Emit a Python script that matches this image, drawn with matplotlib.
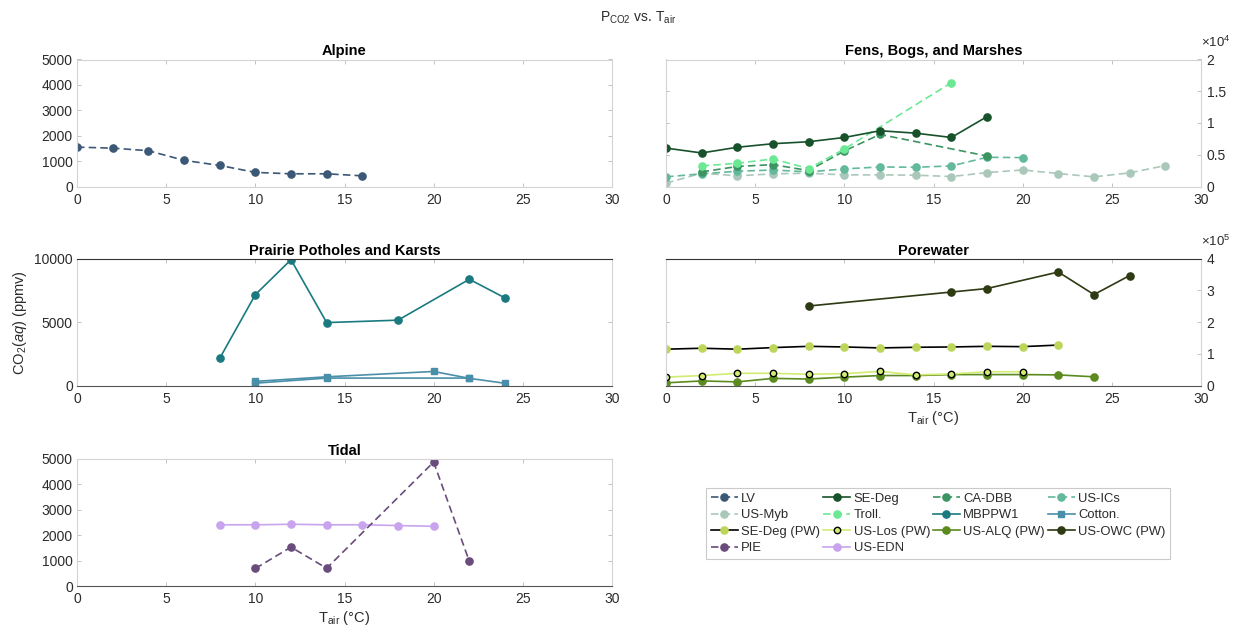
import matplotlib
matplotlib.use("Agg")
import matplotlib.pyplot as plt
from matplotlib.ticker import FuncFormatter

plt.rcParams["font.family"] = ["Liberation Sans", "DejaVu Sans"]
plt.rcParams["mathtext.fontset"] = "custom"
plt.rcParams["mathtext.rm"] = "Liberation Sans"
plt.rcParams["mathtext.it"] = "Liberation Sans:italic"
plt.rcParams["mathtext.bf"] = "Liberation Sans:bold"

# ---- Alpine ----
lv_t = [0, 2, 4, 6, 8, 10, 12, 14, 16]
lv_co2 = [1550, 1510, 1410, 1030, 830, 555, 500, 500, 420]

# ---- Fens, bogs and marshes ----
sedeg_t = [0, 2, 4, 6, 8, 10, 12, 14, 16, 18]
sedeg_co2 = [6050, 5280, 6180, 6740, 7050, 7720, 8780, 8400, 7720, 11000]
cadbb_t = [2, 4, 6, 8, 10, 12, 18]
cadbb_co2 = [2300, 3150, 3450, 2500, 5600, 8200, 4800]
usics_t = [0, 2, 4, 6, 8, 10, 12, 14, 16, 18, 20]
usics_co2 = [1520, 2000, 2400, 2600, 2300, 2770, 3080, 3030, 3240, 4600, 4550]
usmyb_t = [0, 2, 4, 6, 8, 10, 12, 14, 16, 18, 20, 22, 24, 26, 28]
usmyb_co2 = [530, 2100, 1680, 1990, 2100, 1830, 1830, 1780, 1570, 2190, 2610,
             2040, 1520, 2150, 3290]
troll_t = [2, 4, 6, 8, 10, 16]
troll_co2 = [3240, 3660, 4340, 2820, 5900, 16350]

# ---- Prairie potholes and karsts ----
mbppw1_t = [8, 10, 12, 14, 18, 22, 24]
mbppw1_co2 = [2150, 7170, 9920, 4970, 5160, 8380, 6910]
cotton_t = [10, 14, 20, 22, 24]
cotton_co2 = [340, 700, 1120, 580, 190]
cotton2_t = [10, 14, 22]
cotton2_co2 = [200, 600, 600]

# ---- Porewater ----
sedegpw_t = [0, 2, 4, 6, 8, 10, 12, 14, 16, 18, 20, 22]
sedegpw_co2 = [1.15e5, 1.18e5, 1.15e5, 1.20e5, 1.24e5, 1.22e5, 1.19e5, 1.21e5,
               1.22e5, 1.24e5, 1.23e5, 1.28e5]
uslos_t = [0, 2, 4, 6, 8, 10, 12, 14, 16, 18, 20]
uslos_co2 = [0.27e5, 0.32e5, 0.39e5, 0.39e5, 0.36e5, 0.38e5, 0.45e5, 0.34e5,
             0.37e5, 0.44e5, 0.44e5]
usalq_t = [0, 2, 4, 6, 8, 10, 12, 14, 16, 18, 20, 22, 24]
usalq_co2 = [0.09e5, 0.15e5, 0.12e5, 0.23e5, 0.21e5, 0.27e5, 0.32e5, 0.32e5,
             0.35e5, 0.35e5, 0.35e5, 0.34e5, 0.28e5]
usowc_t = [8, 16, 18, 22, 24, 26]
usowc_co2 = [2.51e5, 2.95e5, 3.06e5, 3.58e5, 2.87e5, 3.47e5]

# ---- Tidal ----
pie_t = [10, 12, 14, 20, 22]
pie_co2 = [690, 1530, 700, 4880, 970]
usedn_t = [8, 10, 12, 14, 16, 18, 20]
usedn_co2 = [2410, 2410, 2430, 2410, 2410, 2380, 2350]

C_LV = "#3b5876"
C_SEDEG = "#17522a"
C_CADBB = "#3b9462"
C_USICS = "#62b99b"
C_USMYB = "#aac8ba"
C_TROLL = "#6be894"
C_MBPPW1 = "#1a7a80"
C_COTTON = "#4a8fa9"
C_SEDEGPW = "#bdd65a"
C_USLOS = "#d2ec72"
C_USALQ = "#5b8a1f"
C_USOWC = "#2e3a12"
C_PIE = "#6a4c7c"
C_USEDN = "#c9a4ee"

DASH = (0, (4.5, 2.5))
MS = 5.2
LW = 1.2
TXT = "#2b2b2b"
LIGHT = "#d4d4d4"

fig = plt.figure(figsize=(12.33, 6.26), dpi=100)

colx = [77 / 1233, 666 / 1233]
w = 535 / 1233
h = 127 / 626
rowy = [1 - 186.5 / 626, 1 - 385.7 / 626, 1 - 586 / 626]

ax_al = fig.add_axes([colx[0], rowy[0], w, h])
ax_fe = fig.add_axes([colx[1], rowy[0], w, h])
ax_pr = fig.add_axes([colx[0], rowy[1], w, h])
ax_pw = fig.add_axes([colx[1], rowy[1], w, h])
ax_ti = fig.add_axes([colx[0], rowy[2], w, h])


def style(ax, top_dark=False, bottom_dark=False):
    ax.set_xlim(0, 30)
    ax.set_xticks(range(0, 31, 5))
    ax.tick_params(direction="in", length=3, width=0.6, color="#b8b8b8",
                   labelcolor=TXT, labelsize=10, top=True, right=True, pad=3)
    ax.tick_params(axis="x", pad=4.5)
    for side in ("left", "right", "top", "bottom"):
        ax.spines[side].set_color(LIGHT)
        ax.spines[side].set_linewidth(0.8)
    if top_dark:
        ax.spines["top"].set_color("#333333")
    if bottom_dark:
        ax.spines["bottom"].set_color("#555555")
    ax.set_facecolor("white")


def title(ax, s):
    ax.set_title(s, fontsize=10.5, fontweight="bold", color="black", pad=3)


def right_axis(ax, top, step, exp, left_ticks):
    ax.set_ylim(0, top)
    ax.set_yticks([i * step for i in range(int(round(top / step)) + 1)])
    ax.yaxis.set_major_formatter(
        FuncFormatter(lambda v, p: "%g" % (v / 10 ** exp)))
    ax.tick_params(axis="y", left=False, labelleft=False,
                   right=True, labelright=True, pad=4)
    ax.text(1.0, 1.075, r"$\times10^{%d}$" % exp, transform=ax.transAxes,
            fontsize=9.5, color=TXT, ha="left", va="bottom")
    # unlabelled ticks on the left edge
    for v in left_ticks:
        ax.plot([0, 0.006], [v, v], transform=ax.transAxes, color="#b8b8b8",
                lw=0.6, clip_on=False)


# Alpine
style(ax_al)
ax_al.plot(lv_t, lv_co2, ls=DASH, lw=LW, marker="o", ms=MS, color=C_LV,
           label="LV")
ax_al.set_ylim(0, 5000)
ax_al.set_yticks(range(0, 5001, 1000))
title(ax_al, "Alpine")

# Fens, bogs and marshes
style(ax_fe)
l_myb, = ax_fe.plot(usmyb_t, usmyb_co2, ls=DASH, lw=LW, marker="o", ms=MS,
                    color=C_USMYB, label="US-Myb")
l_ics, = ax_fe.plot(usics_t, usics_co2, ls=DASH, lw=LW, marker="o", ms=MS,
                    color=C_USICS, label="US-ICs")
l_dbb, = ax_fe.plot(cadbb_t, cadbb_co2, ls=DASH, lw=LW, marker="o", ms=MS,
                    color=C_CADBB, label="CA-DBB")
l_tro, = ax_fe.plot(troll_t, troll_co2, ls=DASH, lw=LW, marker="o", ms=MS,
                    color=C_TROLL, label="Troll.")
l_sed, = ax_fe.plot(sedeg_t, sedeg_co2, ls="-", lw=LW, marker="o", ms=MS,
                    color=C_SEDEG, label="SE-Deg")
right_axis(ax_fe, 20000, 5000, 4, [0.25, 0.5, 0.75])
title(ax_fe, "Fens, Bogs, and Marshes")

# Prairie potholes and karsts
style(ax_pr, top_dark=True, bottom_dark=True)
l_mb, = ax_pr.plot(mbppw1_t, mbppw1_co2, ls="-", lw=LW, marker="o", ms=MS,
                   color=C_MBPPW1, label="MBPPW1")
l_co, = ax_pr.plot(cotton_t, cotton_co2, ls="-", lw=LW, marker="s", ms=MS - 0.6,
                   color=C_COTTON, label="Cotton.")
ax_pr.plot(cotton2_t, cotton2_co2, ls="-", lw=LW, marker="s", ms=MS - 0.6,
           color=C_COTTON)
ax_pr.set_ylim(0, 10000)
ax_pr.set_yticks([0, 5000, 10000])
ax_pr.set_ylabel(r"CO$_2$($\mathit{aq}$) (ppmv)", fontsize=10.5, color=TXT,
                 labelpad=4)
title(ax_pr, "Prairie Potholes and Karsts")

# Porewater
style(ax_pw, top_dark=True, bottom_dark=True)
l_owc, = ax_pw.plot(usowc_t, usowc_co2, ls="-", lw=LW, marker="o", ms=MS,
                    color=C_USOWC, label="US-OWC (PW)")
l_sepw, = ax_pw.plot(sedegpw_t, sedegpw_co2, ls="-", lw=LW, marker="o", ms=MS,
                     color="black", mfc=C_SEDEGPW, mec=C_SEDEGPW,
                     label="SE-Deg (PW)")
l_alq, = ax_pw.plot(usalq_t, usalq_co2, ls="-", lw=LW, marker="o", ms=MS,
                    color=C_USALQ, label="US-ALQ (PW)")
l_los, = ax_pw.plot(uslos_t, uslos_co2, ls="-", lw=LW, marker="o", ms=MS - 0.6,
                    color=C_USLOS, mfc=C_USLOS, mec="black", mew=1.0,
                    label="US-Los (PW)")
right_axis(ax_pw, 4e5, 1e5, 5, [0.5])
ax_pw.set_xlabel(r"T$_{\mathrm{air}}$ ($\degree$C)", fontsize=10.5, color=TXT,
                 labelpad=2)
title(ax_pw, "Porewater")

# Tidal
style(ax_ti, bottom_dark=True)
l_edn, = ax_ti.plot(usedn_t, usedn_co2, ls="-", lw=LW, marker="o", ms=MS,
                    color=C_USEDN, label="US-EDN")
l_pie, = ax_ti.plot(pie_t, pie_co2, ls=DASH, lw=LW, marker="o", ms=MS,
                    color=C_PIE, label="PIE")
ax_ti.set_ylim(0, 5000)
ax_ti.set_yticks(range(0, 5001, 1000))
ax_ti.set_xlabel(r"T$_{\mathrm{air}}$ ($\degree$C)", fontsize=10.5, color=TXT,
                 labelpad=2)
title(ax_ti, "Tidal")

# Figure title
fig.text(0.518, 0.972, r"P$_{\mathrm{CO2}}$ vs. T$_{\mathrm{air}}$", fontsize=10,
         color=TXT, ha="center", va="center")

# Shared legend: entries are read row by row in four columns
lv_handle = ax_al.get_lines()[0]
rows = [
    [lv_handle, l_sed, l_dbb, l_ics],
    [l_myb, l_tro, l_mb, l_co],
    [l_sepw, l_los, l_alq, l_owc],
    [l_pie, l_edn],
]
ncol = 4
cols = [[r[c] for r in rows if c < len(r)] for c in range(ncol)]
handles = [hnd for col in cols for hnd in col]
labels = [hnd.get_label() for hnd in handles]
leg = fig.legend(handles, labels, ncol=ncol, loc="upper left",
                 bbox_to_anchor=(706 / 1233, 1 - 488 / 626),
                 fontsize=9.4, frameon=True, fancybox=False,
                 edgecolor="#bdbdbd", handlelength=2.1, handletextpad=0.25,
                 columnspacing=0.2, labelspacing=0.34, borderpad=0.35,
                 borderaxespad=0.0)
leg.get_frame().set_linewidth(0.8)
for t in leg.get_texts():
    t.set_color(TXT)

fig.savefig("out.png", dpi=100, facecolor="white")
